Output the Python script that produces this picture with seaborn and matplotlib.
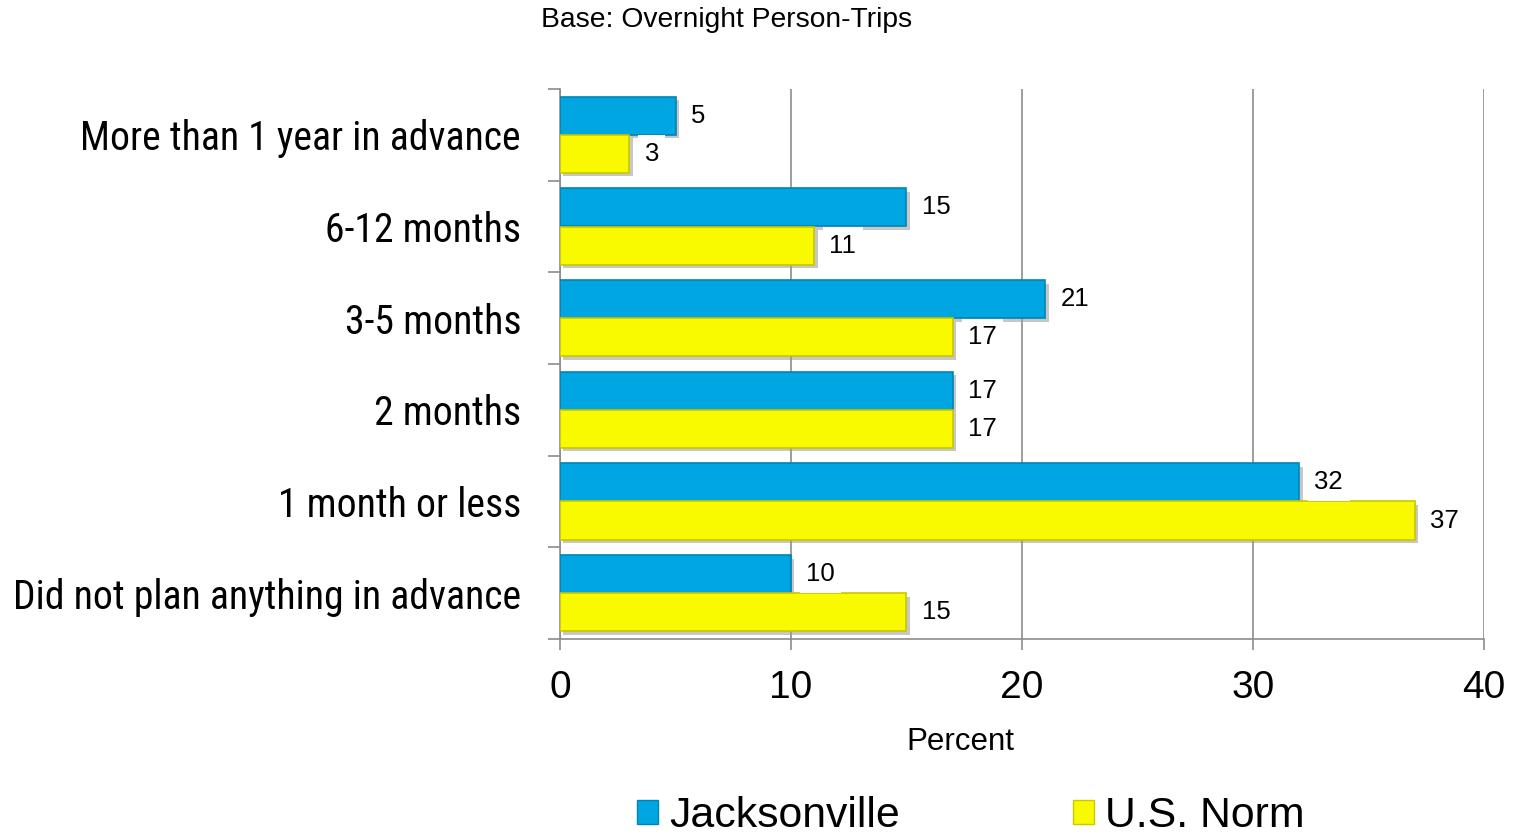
import matplotlib
matplotlib.use("Agg")
import matplotlib.pyplot as plt
from matplotlib import font_manager
from matplotlib.patches import Patch
import matplotlib.patheffects as pe
import numpy as np
import pandas as pd
import seaborn as sns

# ---- data -------------------------------------------------------------
categories = [
    "More than 1 year in advance",
    "6-12 months",
    "3-5 months",
    "2 months",
    "1 month or less",
    "Did not plan anything in advance",
]
series_names = ["Jacksonville", "U.S. Norm"]
jacksonville = [5, 15, 21, 17, 32, 10]
us_norm = [3, 11, 17, 17, 37, 15]
x_ticks = [0, 10, 20, 30, 40]

colors = {"Jacksonville": "#00A6E2", "U.S. Norm": "#F9F900"}
edge_colors = {"Jacksonville": "#0085B5", "U.S. Norm": "#C8C800"}

df = pd.DataFrame({
    "category": categories * 2,
    "series": [series_names[0]] * len(categories) + [series_names[1]] * len(categories),
    "value": jacksonville + us_norm,
})

# ---- fonts ------------------------------------------------------------
available = {f.name for f in font_manager.fontManager.ttflist}


def pick(names, default="DejaVu Sans"):
    for n in names:
        if n in available:
            return n
    return default


narrow = pick(["Liberation Sans Narrow", "Arial Narrow", "Roboto Condensed",
               "Open Sans Condensed", "DejaVu Sans Condensed"], None)
regular = pick(["Liberation Sans", "Arial", "DejaVu Sans"])

sns.set_theme(style="white")
plt.rcParams["font.family"] = [regular, "DejaVu Sans"]
plt.rcParams["text.color"] = "black"
plt.rcParams["xtick.color"] = "black"
plt.rcParams["ytick.color"] = "black"
plt.rcParams["axes.labelcolor"] = "black"

# ---- figure -----------------------------------------------------------
fig = plt.figure(figsize=(15.17, 8.36), dpi=100)
ax = fig.add_axes([560 / 1517, 1 - 639 / 836, (1484 - 560) / 1517, (639 - 89) / 836])

sns.barplot(data=df, y="category", x="value", hue="series", order=categories,
            hue_order=series_names, palette=colors, orient="h", width=0.83,
            saturation=1, ax=ax, legend=False)

# bar edges and soft drop shadow
for cont, name in zip(ax.containers, series_names):
    for bar in cont:
        bar.set_edgecolor(edge_colors[name])
        bar.set_linewidth(1.2)
        bar.set_path_effects([
            pe.SimplePatchShadow(offset=(2.5, -2.5), shadow_rgbFace="#9a9a9a", alpha=0.55),
            pe.Normal(),
        ])
        bar.set_zorder(3)

# value labels
for cont in ax.containers:
    ax.bar_label(cont, labels=[f"{v:g}" for v in cont.datavalues], padding=11,
                 fontsize=18.5, color="black", zorder=5,
                 bbox=dict(boxstyle="square,pad=0.25", facecolor="white", edgecolor="none"))

# axes styling
ax.set_xlim(0, 40)
ax.set_xticks(x_ticks)
ax.set_xticklabels([str(t) for t in x_ticks], fontsize=28)
ax.set_ylim(len(categories) - 0.5, -0.5)
ax.set_yticks(np.arange(len(categories) + 1) - 0.5, minor=True)
ax.set_yticks(np.arange(len(categories)))
ax.set_yticklabels(categories, fontsize=28.6,
                   family=[narrow] if narrow else [regular],
                   fontstretch="condensed")
ax.tick_params(axis="y", which="major", length=0, pad=28)
ax.tick_params(axis="y", which="minor", length=9, width=1.2, color="#8c8c8c", left=True)
ax.tick_params(axis="x", which="major", length=8, width=1.2, color="#8c8c8c",
               bottom=True, pad=14, direction="out")
ax.set_xlabel("Percent", fontsize=22.5)
ax.xaxis.set_label_coords((960 - 560) / 924, -(742 - 639) / 550)
ax.xaxis.label.set_va("center")
ax.set_ylabel("")

ax.grid(axis="x", color="#8c8c8c", linewidth=1.2, zorder=0)
ax.set_axisbelow(True)
for side in ["top", "right"]:
    ax.spines[side].set_visible(False)
for side in ["left", "bottom"]:
    ax.spines[side].set_color("#8c8c8c")
    ax.spines[side].set_linewidth(1.2)

fig.text(727 / 1517, 1 - 20 / 836, "Base: Overnight Person-Trips",
         ha="center", va="center", fontsize=20.3)

handles = [Patch(facecolor=colors[n], edgecolor=edge_colors[n]) for n in series_names]
fig.legend(handles, series_names, loc="lower center", bbox_to_anchor=(0.640, 0.0),
           ncol=2, frameon=False, fontsize=30.8, handlelength=0.5, handleheight=0.5,
           handletextpad=0.25, columnspacing=4.05, borderaxespad=0.0, borderpad=0.0)

fig.savefig("out.png", dpi=100)
